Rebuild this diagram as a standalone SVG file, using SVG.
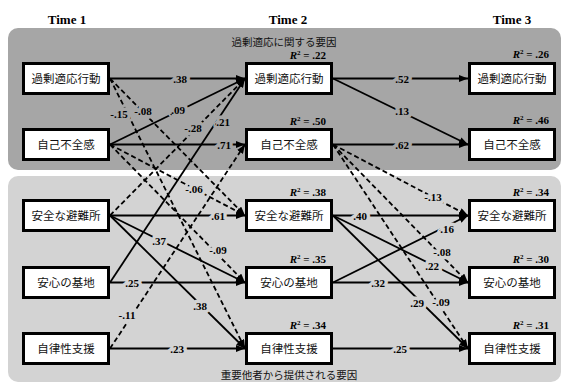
<svg xmlns="http://www.w3.org/2000/svg" width="562" height="383" viewBox="0 0 562 383">
<style>
.hdr{font-family:"Liberation Serif",serif;font-weight:bold;font-size:13px;text-anchor:middle}
.ttl{font-family:"Noto Sans CJK JP",sans-serif;font-size:10.5px;text-anchor:middle;fill:#111}
.box rect{fill:#fff;stroke:#000;stroke-width:3}
.box text{font-family:"Noto Sans CJK JP",sans-serif;font-size:11.5px;text-anchor:middle;fill:#111}
.r2{font-family:"Liberation Serif",serif;font-weight:bold;font-size:11px;text-anchor:end}
.e{stroke:#000;stroke-width:1.8;fill:none;marker-end:url(#ah)}
.d{stroke-dasharray:5 3}
.lb{font-family:"Liberation Serif",serif;font-weight:bold;font-size:11px;text-anchor:middle;paint-order:stroke;stroke-width:7;stroke-linejoin:round}
.lt{stroke:#a6a6a6}
.ll{stroke:#d3d3d3}
</style>
<defs>
<marker id="ah" markerUnits="userSpaceOnUse" markerWidth="9" markerHeight="7" refX="9" refY="3.5" orient="auto">
<path d="M0,0 L9,3.5 L0,7 z" fill="#000"/>
</marker>
</defs>
<rect x="0" y="0" width="562" height="383" fill="#fff"/>
<rect x="8" y="28" width="553" height="142" rx="10" fill="#a6a6a6"/>
<rect x="8" y="176" width="553" height="206" rx="10" fill="#d3d3d3"/>
<text class="hdr" x="67" y="24">Time 1</text>
<text class="hdr" x="288" y="24">Time 2</text>
<text class="hdr" x="512" y="24">Time 3</text>
<text class="ttl" x="284" y="46">過剰適応に関する要因</text>
<text class="ttl" x="289" y="379">重要他者から提供される要因</text>
<g id="connectors">
<line class="e" x1="110" y1="78.5" x2="245" y2="78.5"/>
<line class="e" x1="110" y1="144.5" x2="245" y2="78.5"/>
<line class="e d" x1="110" y1="78.5" x2="245" y2="348.5"/>
<line class="e d" x1="110" y1="78.5" x2="245" y2="215.5"/>
<line class="e d" x1="110" y1="215.5" x2="245" y2="78.5"/>
<line class="e" x1="110" y1="282.5" x2="245" y2="78.5"/>
<line class="e" x1="110" y1="144.5" x2="245" y2="144.5"/>
<line class="e d" x1="110" y1="348.5" x2="245" y2="144.5"/>
<line class="e d" x1="110" y1="144.5" x2="245" y2="215.5"/>
<line class="e" x1="110" y1="215.5" x2="245" y2="215.5"/>
<line class="e" x1="110" y1="215.5" x2="245" y2="282.5"/>
<line class="e d" x1="110" y1="144.5" x2="245" y2="282.5"/>
<line class="e" x1="110" y1="282.5" x2="245" y2="282.5"/>
<line class="e" x1="110" y1="215.5" x2="245" y2="348.5"/>
<line class="e" x1="110" y1="348.5" x2="245" y2="348.5"/>
<line class="e" x1="333" y1="78.5" x2="468" y2="78.5"/>
<line class="e" x1="333" y1="78.5" x2="468" y2="144.5"/>
<line class="e" x1="333" y1="144.5" x2="468" y2="144.5"/>
<line class="e d" x1="333" y1="144.5" x2="468" y2="215.5"/>
<line class="e d" x1="333" y1="144.5" x2="468" y2="282.5"/>
<line class="e d" x1="333" y1="144.5" x2="468" y2="348.5"/>
<line class="e" x1="333" y1="215.5" x2="468" y2="215.5"/>
<line class="e" x1="333" y1="282.5" x2="468" y2="215.5"/>
<line class="e" x1="333" y1="215.5" x2="468" y2="282.5"/>
<line class="e" x1="333" y1="215.5" x2="468" y2="348.5"/>
<line class="e" x1="333" y1="282.5" x2="468" y2="282.5"/>
<line class="e" x1="333" y1="348.5" x2="468" y2="348.5"/>
</g>
<g id="labels">
<text class="lb lt" x="180" y="82.5">.38</text>
<text class="lb lt" x="178" y="114">.09</text>
<text class="lb lt" x="119" y="118">-.15</text>
<text class="lb lt" x="143" y="115">-.08</text>
<text class="lb lt" x="193" y="132">-.28</text>
<text class="lb lt" x="223" y="126">.21</text>
<text class="lb lt" x="224" y="148.5">.71</text>
<text class="lb ll" x="194" y="193">-.06</text>
<text class="lb ll" x="218" y="219.5">.61</text>
<text class="lb ll" x="159" y="245">.37</text>
<text class="lb ll" x="218" y="254">-.09</text>
<text class="lb ll" x="132" y="286.5">.25</text>
<text class="lb ll" x="200" y="310">.38</text>
<text class="lb ll" x="127" y="319">-.11</text>
<text class="lb ll" x="177" y="352.5">.23</text>
<text class="lb lt" x="402" y="82.5">.52</text>
<text class="lb lt" x="402" y="115">.13</text>
<text class="lb lt" x="402" y="148.5">.62</text>
<text class="lb ll" x="433" y="201">-.13</text>
<text class="lb ll" x="360" y="219.5">.40</text>
<text class="lb ll" x="447" y="233">.16</text>
<text class="lb ll" x="442" y="256">-.08</text>
<text class="lb ll" x="432" y="270">.22</text>
<text class="lb ll" x="378" y="286.5">.32</text>
<text class="lb ll" x="417" y="307">.29</text>
<text class="lb ll" x="441" y="306">-.09</text>
<text class="lb ll" x="400" y="352.5">.25</text>
</g>
<g id="t1_kajo" class="box"><rect x="23.5" y="63.5" width="85" height="30"/><text x="66" y="82.5">過剰適応行動</text></g>
<g id="t1_jiko" class="box"><rect x="23.5" y="129.5" width="85" height="30"/><text x="66" y="148.5">自己不全感</text></g>
<g id="t1_anzen" class="box"><rect x="23.5" y="200.5" width="85" height="30"/><text x="66" y="219.5">安全な避難所</text></g>
<g id="t1_anshin" class="box"><rect x="23.5" y="267.5" width="85" height="30"/><text x="66" y="286.5">安心の基地</text></g>
<g id="t1_jiritsu" class="box"><rect x="23.5" y="333.5" width="85" height="30"/><text x="66" y="352.5">自律性支援</text></g>
<g id="t2_kajo" class="box"><rect x="246.5" y="63.5" width="85" height="30"/><text x="289" y="82.5">過剰適応行動</text></g>
<g id="t2_jiko" class="box"><rect x="246.5" y="129.5" width="85" height="30"/><text x="289" y="148.5">自己不全感</text></g>
<g id="t2_anzen" class="box"><rect x="246.5" y="200.5" width="85" height="30"/><text x="289" y="219.5">安全な避難所</text></g>
<g id="t2_anshin" class="box"><rect x="246.5" y="267.5" width="85" height="30"/><text x="289" y="286.5">安心の基地</text></g>
<g id="t2_jiritsu" class="box"><rect x="246.5" y="333.5" width="85" height="30"/><text x="289" y="352.5">自律性支援</text></g>
<g id="t3_kajo" class="box"><rect x="469.5" y="63.5" width="85" height="30"/><text x="512" y="82.5">過剰適応行動</text></g>
<g id="t3_jiko" class="box"><rect x="469.5" y="129.5" width="85" height="30"/><text x="512" y="148.5">自己不全感</text></g>
<g id="t3_anzen" class="box"><rect x="469.5" y="200.5" width="85" height="30"/><text x="512" y="219.5">安全な避難所</text></g>
<g id="t3_anshin" class="box"><rect x="469.5" y="267.5" width="85" height="30"/><text x="512" y="286.5">安心の基地</text></g>
<g id="t3_jiritsu" class="box"><rect x="469.5" y="333.5" width="85" height="30"/><text x="512" y="352.5">自律性支援</text></g>
<g id="r2">
<text class="r2" x="326" y="59"><tspan font-style="italic">R</tspan><tspan font-size="7" dy="-4">2</tspan><tspan dy="4"> = .22</tspan></text>
<text class="r2" x="326" y="125"><tspan font-style="italic">R</tspan><tspan font-size="7" dy="-4">2</tspan><tspan dy="4"> = .50</tspan></text>
<text class="r2" x="326" y="196"><tspan font-style="italic">R</tspan><tspan font-size="7" dy="-4">2</tspan><tspan dy="4"> = .38</tspan></text>
<text class="r2" x="326" y="263"><tspan font-style="italic">R</tspan><tspan font-size="7" dy="-4">2</tspan><tspan dy="4"> = .35</tspan></text>
<text class="r2" x="326" y="329"><tspan font-style="italic">R</tspan><tspan font-size="7" dy="-4">2</tspan><tspan dy="4"> = .34</tspan></text>
<text class="r2" x="549" y="58"><tspan font-style="italic">R</tspan><tspan font-size="7" dy="-4">2</tspan><tspan dy="4"> = .26</tspan></text>
<text class="r2" x="549" y="124"><tspan font-style="italic">R</tspan><tspan font-size="7" dy="-4">2</tspan><tspan dy="4"> = .46</tspan></text>
<text class="r2" x="549" y="196"><tspan font-style="italic">R</tspan><tspan font-size="7" dy="-4">2</tspan><tspan dy="4"> = .34</tspan></text>
<text class="r2" x="549" y="263"><tspan font-style="italic">R</tspan><tspan font-size="7" dy="-4">2</tspan><tspan dy="4"> = .30</tspan></text>
<text class="r2" x="549" y="329"><tspan font-style="italic">R</tspan><tspan font-size="7" dy="-4">2</tspan><tspan dy="4"> = .31</tspan></text>
</g>
</svg>
